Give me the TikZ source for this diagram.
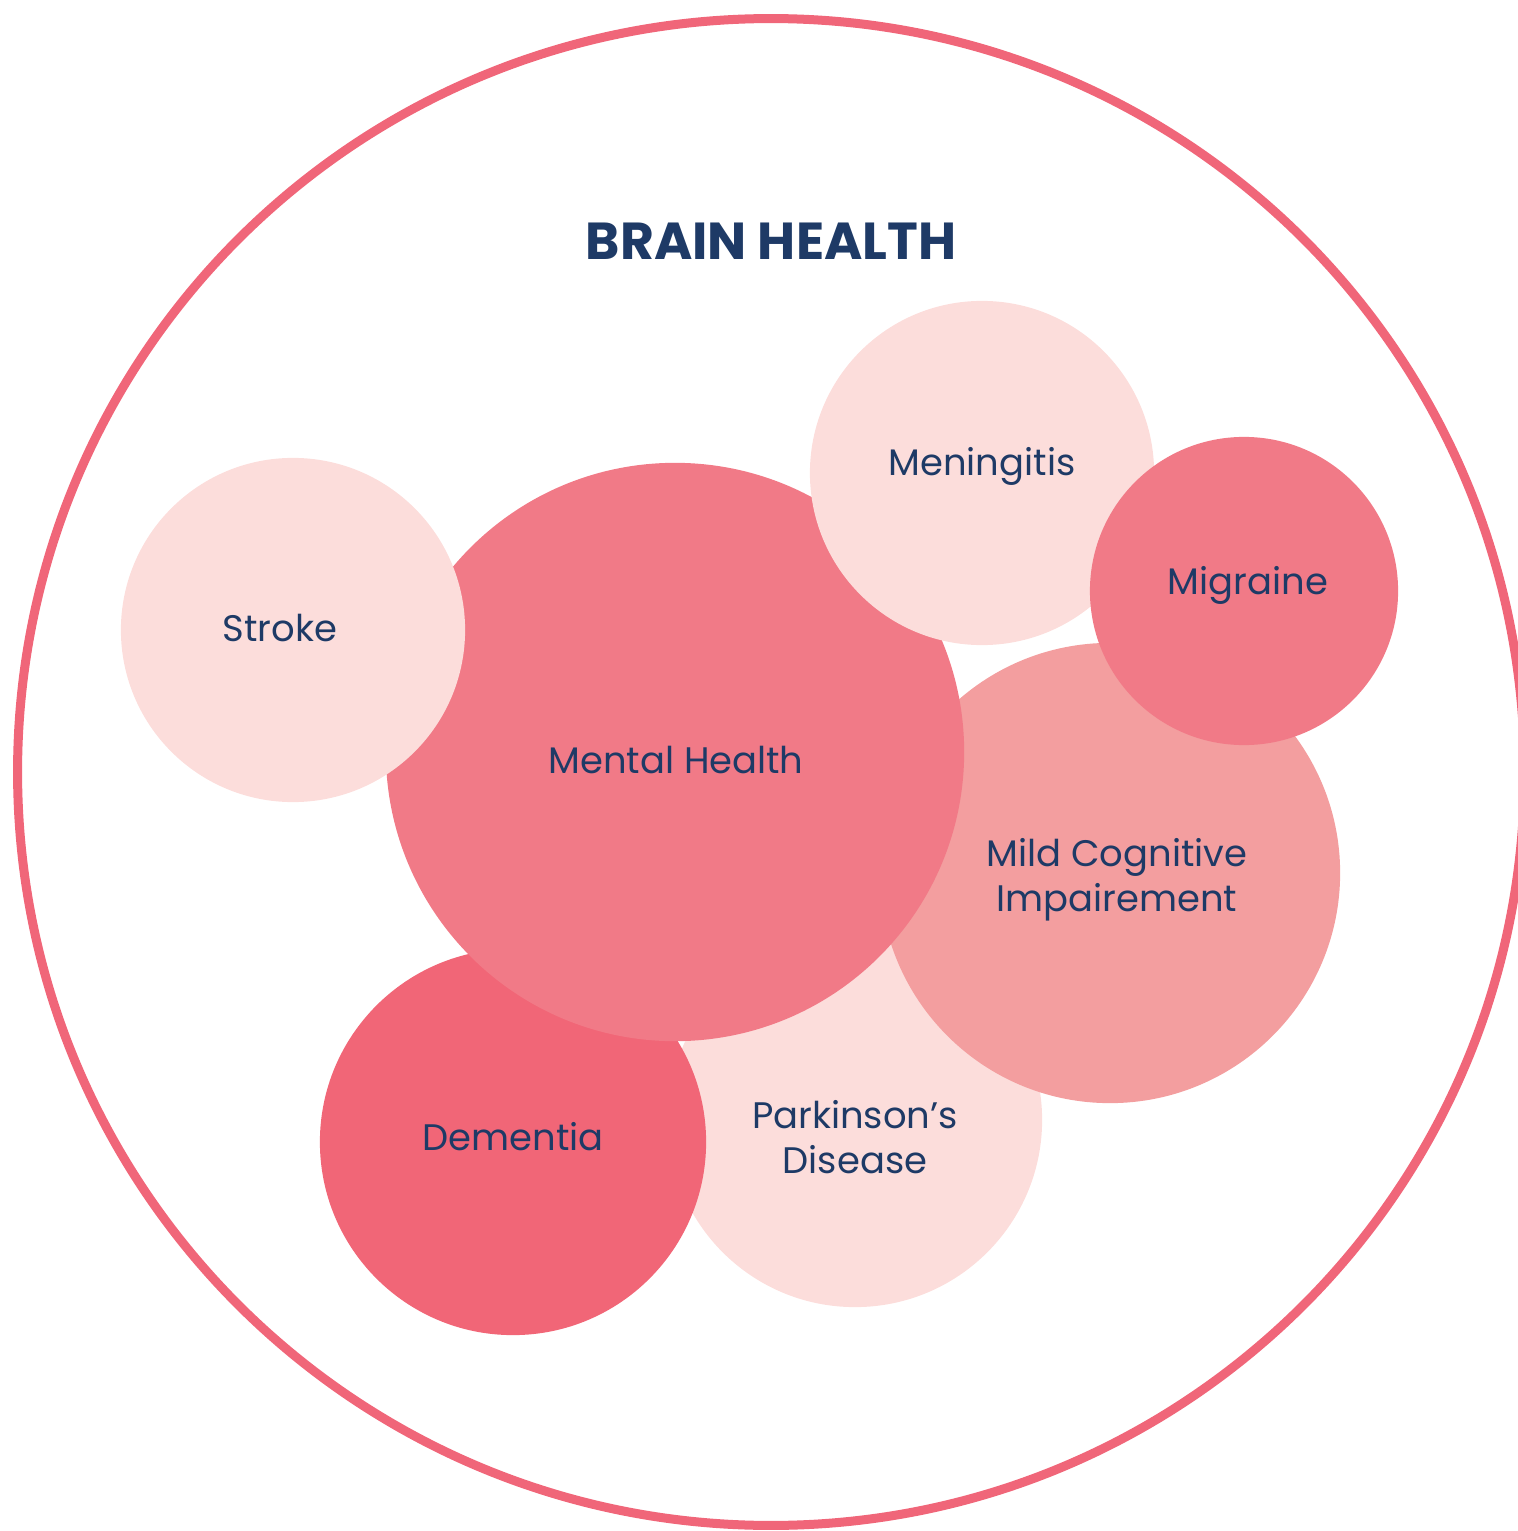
\documentclass[tikz,border=0pt]{standalone}
\usepackage{fontspec}
\setmainfont{Poppins}
\usepackage{tikz}

\definecolor{ringred}{HTML}{F06679}
\definecolor{blush}{HTML}{FCDDDB}
\definecolor{rosepink}{HTML}{F17A87}
\definecolor{salmon}{HTML}{F39E9F}
\definecolor{coral}{HTML}{F16677}
\definecolor{navy}{HTML}{1E3A66}

\tikzset{
	bubble/.style={circle, draw=none, inner sep=0pt},
	bubbletext/.style={text=navy, font=\fontsize{10.5}{12.8}\selectfont, align=center, inner sep=0pt}
}

\begin{document}
\begin{tikzpicture}[x=0.01cm, y=-0.01cm]
	\useasboundingbox (0,0) rectangle (1517,1531);
	%outer ring
	\draw[ringred, line width=0.09cm] (771,772) circle[radius=7.53cm];
	%title
	\node[text=navy, font=\fontsize{14.8}{17}\bfseries\selectfont] (title) at (771,241) {BRAIN HEALTH};
	%bubbles, back to front
	\node[bubble, fill=blush, minimum size=3.74cm] (parkinson) at (855,1120) {};
	\node[bubble, fill=coral, minimum size=3.86cm] (dementia) at (513,1142) {};
	\node[bubble, fill=salmon, minimum size=4.60cm] (mci) at (1110,873) {};
	\node[bubble, fill=rosepink, minimum size=5.78cm] (mental) at (675,752) {};
	\node[bubble, fill=blush, minimum size=3.44cm] (stroke) at (293,630) {};
	\node[bubble, fill=blush, minimum size=3.44cm] (meningitis) at (982,473) {};
	\node[bubble, fill=rosepink, minimum size=3.08cm] (migraine) at (1244,591) {};
	%labels
	\node[bubbletext] (parkinson text) at (855,1137) {Parkinson’s\\Disease};
	\node[bubbletext] (dementia text) at (513,1137) {Dementia};
	\node[bubbletext] (mci text) at (1117,880) {Mild Cognitive\\Impairement};
	\node[bubbletext] (stroke text) at (280,628) {Stroke};
	\node[bubbletext] (mental text) at (676,760) {Mental Health};
	\node[bubbletext] (meningitis text) at (982,466) {Meningitis};
	\node[bubbletext] (migraine text) at (1248,585) {Migraine};
\end{tikzpicture}
\end{document}
